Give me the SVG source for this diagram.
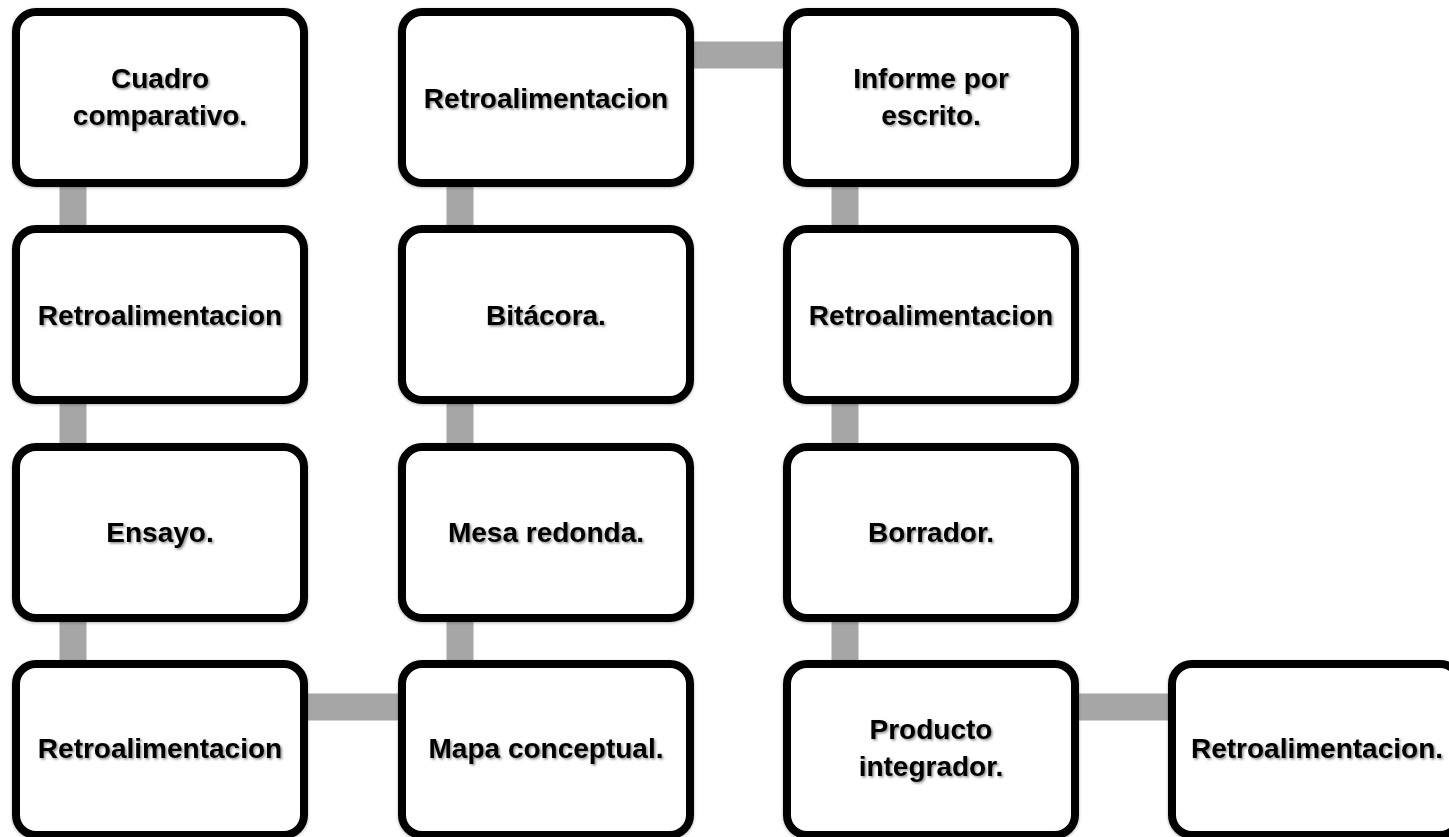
<svg xmlns="http://www.w3.org/2000/svg" width="1449" height="837" viewBox="0 0 1449 837">
<defs>
<filter id="ts" x="-10%" y="-30%" width="120%" height="160%"><feDropShadow dx="1.5" dy="1.5" stdDeviation="1" flood-color="#000" flood-opacity="0.45"/></filter>
<filter id="bs" x="-5%" y="-5%" width="110%" height="110%"><feDropShadow dx="0" dy="1" stdDeviation="1.5" flood-color="#000" flood-opacity="0.3"/></filter>
</defs>
<style>
.box{fill:#fff;stroke:#000;stroke-width:8}
.c{stroke:#a6a6a6;stroke-width:27;fill:none}
text{font-family:"Liberation Sans",Arial,sans-serif;font-weight:bold;font-size:28px;text-anchor:middle;fill:#000}
</style>
<g id="connectors">
<line class="c" x1="73" y1="97" x2="73" y2="748"/>
<line class="c" x1="160" y1="707" x2="545" y2="707"/>
<line class="c" x1="460" y1="97" x2="460" y2="748"/>
<line class="c" x1="545" y1="55" x2="930" y2="55"/>
<line class="c" x1="845" y1="97" x2="845" y2="748"/>
<line class="c" x1="930" y1="707" x2="1316" y2="707"/>
</g>
<g id="n1"><rect class="box" x="16" y="12" width="288" height="171" rx="20" filter="url(#bs)"/><text x="160" y="88" filter="url(#ts)">Cuadro</text><text x="160" y="125" filter="url(#ts)">comparativo.</text></g>
<g id="n2"><rect class="box" x="16" y="229" width="288" height="171" rx="20" filter="url(#bs)"/><text x="160" y="325" filter="url(#ts)">Retroalimentacion</text></g>
<g id="n3"><rect class="box" x="16" y="447" width="288" height="171" rx="20" filter="url(#bs)"/><text x="160" y="542" filter="url(#ts)">Ensayo.</text></g>
<g id="n4"><rect class="box" x="16" y="664" width="288" height="171" rx="20" filter="url(#bs)"/><text x="160" y="758" filter="url(#ts)">Retroalimentacion</text></g>
<g id="n5"><rect class="box" x="402" y="664" width="288" height="171" rx="20" filter="url(#bs)"/><text x="546" y="758" filter="url(#ts)">Mapa conceptual.</text></g>
<g id="n6"><rect class="box" x="402" y="447" width="288" height="171" rx="20" filter="url(#bs)"/><text x="546" y="542" filter="url(#ts)">Mesa redonda.</text></g>
<g id="n7"><rect class="box" x="402" y="229" width="288" height="171" rx="20" filter="url(#bs)"/><text x="546" y="325" filter="url(#ts)">Bitácora.</text></g>
<g id="n8"><rect class="box" x="402" y="12" width="288" height="171" rx="20" filter="url(#bs)"/><text x="546" y="108" filter="url(#ts)">Retroalimentacion</text></g>
<g id="n9"><rect class="box" x="787" y="12" width="288" height="171" rx="20" filter="url(#bs)"/><text x="931" y="88" filter="url(#ts)">Informe por</text><text x="931" y="125" filter="url(#ts)">escrito.</text></g>
<g id="n10"><rect class="box" x="787" y="229" width="288" height="171" rx="20" filter="url(#bs)"/><text x="931" y="325" filter="url(#ts)">Retroalimentacion</text></g>
<g id="n11"><rect class="box" x="787" y="447" width="288" height="171" rx="20" filter="url(#bs)"/><text x="931" y="542" filter="url(#ts)">Borrador.</text></g>
<g id="n12"><rect class="box" x="787" y="664" width="288" height="171" rx="20" filter="url(#bs)"/><text x="931" y="739" filter="url(#ts)">Producto</text><text x="931" y="776" filter="url(#ts)">integrador.</text></g>
<g id="n13"><rect class="box" x="1172" y="664" width="288" height="171" rx="20" filter="url(#bs)"/><text x="1317" y="758" filter="url(#ts)">Retroalimentacion.</text></g>
</svg>
